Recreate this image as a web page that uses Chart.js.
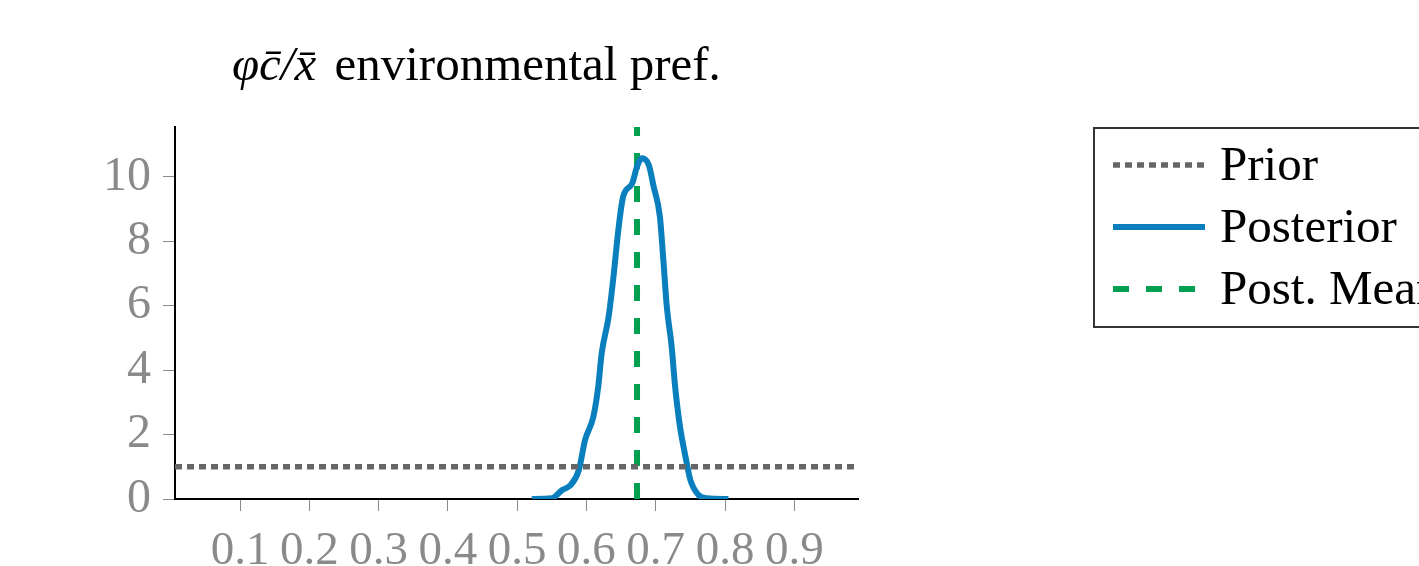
<!DOCTYPE html>
<html>
<head>
<meta charset="utf-8">
<script src="https://cdn.jsdelivr.net/npm/chart.js@4"></script>
<style>
  html, body { margin: 0; padding: 0; background: #fff; }
  #wrap { width: 1419px; height: 566px; }
</style>
</head>
<body>
<div id="wrap"><canvas id="chart" width="1419" height="566"></canvas></div>
<script>
// axis ticks
const xTicks = [0.1, 0.2, 0.3, 0.4, 0.5, 0.6, 0.7, 0.8, 0.9];
const yTicks = [0, 2, 4, 6, 8, 10];

// prior density (flat)
const priorX = [0.006, 0.992];
const priorY = [1, 1];

// posterior density
const postX = [0.521, 0.550, 0.565, 0.577, 0.589, 0.598, 0.610, 0.617, 0.622, 0.632,
               0.639, 0.646, 0.653, 0.666, 0.673, 0.680, 0.690, 0.697, 0.706, 0.711,
               0.716, 0.723, 0.728, 0.735, 0.743, 0.750, 0.762, 0.774, 0.805];
const postY = [0, 0.02, 0.28, 0.43, 0.9, 1.83, 2.56, 3.49, 4.53, 5.66,
               6.9, 8.35, 9.39, 9.8, 10.32, 10.58, 10.37, 9.7, 8.77, 7.42,
               5.97, 4.73, 3.49, 2.25, 1.31, 0.59, 0.12, 0.02, 0];

// posterior mean
const postMean = 0.673;

const xMin = 0.006, xMax = 0.992;
const yMin = 0, yMax = 11.55;

const serif = "'Liberation Serif', 'DejaVu Serif', serif";
const tickGray = '#8a8a8a';

function pts(xs, ys) {
    return xs.map((x, i) => ({ x: x, y: ys[i] }));
}

// title + legend drawn by hand to match the pgfplots look
const decor = {
    id: 'decor',
    afterDraw(chart) {
        const ctx = chart.ctx;
        ctx.save();
        // title
        ctx.fillStyle = '#000';
        ctx.textBaseline = 'alphabetic';
        ctx.textAlign = 'left';
        ctx.font = 'italic 49px ' + serif;
        const mathPart = 'φc̄/x̄';
        ctx.fillText(mathPart, 232, 80);
        const w = ctx.measureText(mathPart).width;
        ctx.font = '49px ' + serif;
        ctx.fillText(' environmental pref.', 238 + w, 80);

        // legend box
        ctx.strokeStyle = '#333';
        ctx.lineWidth = 2;
        ctx.strokeRect(1094, 128, 340, 199);
        const rows = [165, 227, 289];
        chart.data.datasets.forEach((ds, i) => {
            const y = rows[i];
            ctx.strokeStyle = ds.borderColor;
            ctx.lineWidth = ds.borderWidth;
            ctx.setLineDash(ds.borderDash || []);
            ctx.beginPath();
            ctx.moveTo(1113, y);
            ctx.lineTo(1205, y);
            ctx.stroke();
            ctx.setLineDash([]);
            ctx.fillStyle = '#000';
            ctx.font = '49px ' + serif;
            ctx.textBaseline = 'middle';
            ctx.fillText(ds.label, 1220, y + 2);
        });
        ctx.restore();
    }
};

new Chart(document.getElementById('chart'), {
    type: 'line',
    data: {
        datasets: [
            {
                label: 'Prior',
                data: pts(priorX, priorY),
                borderColor: '#666666',
                borderWidth: 5.5,
                borderDash: [7, 5],
                pointRadius: 0
            },
            {
                label: 'Posterior',
                data: pts(postX, postY),
                borderColor: '#0a7fbd',
                borderWidth: 6,
                cubicInterpolationMode: 'monotone',
                pointRadius: 0
            },
            {
                label: 'Post. Mean',
                data: pts([postMean, postMean], [yMin, yMax]),
                borderColor: '#00a050',
                borderWidth: 6,
                borderDash: [16, 17],
                pointRadius: 0
            }
        ]
    },
    options: {
        responsive: false,
        animation: false,
        layout: { padding: { left: 0, top: 127, right: 561, bottom: 0 } },
        plugins: {
            legend: { display: false },
            title: { display: false },
            tooltip: { enabled: false }
        },
        scales: {
            x: {
                type: 'linear',
                min: xMin,
                max: xMax,
                afterBuildTicks(scale) { scale.ticks = xTicks.map(v => ({ value: v })); },
                afterFit(scale) { scale.height = 67; },
                grid: { drawOnChartArea: false, drawTicks: true, tickLength: 12, tickColor: tickGray, tickWidth: 1 },
                border: { display: true, color: '#000', width: 2 },
                ticks: {
                    color: tickGray,
                    font: { family: serif, size: 47 },
                    padding: 12,
                    maxRotation: 0,
                    autoSkip: false,
                    callback: v => v.toFixed(1)
                }
            },
            y: {
                type: 'linear',
                min: yMin,
                max: yMax,
                afterBuildTicks(scale) { scale.ticks = yTicks.map(v => ({ value: v })); },
                afterFit(scale) { scale.width = 175; },
                grid: { drawOnChartArea: false, drawTicks: true, tickLength: 12, tickColor: tickGray, tickWidth: 1 },
                border: { display: true, color: '#000', width: 2 },
                ticks: {
                    color: tickGray,
                    font: { family: serif, size: 48 },
                    padding: 12,
                    autoSkip: false,
                    callback: v => String(v)
                }
            }
        }
    },
    plugins: [decor]
});
</script>
</body>
</html>
